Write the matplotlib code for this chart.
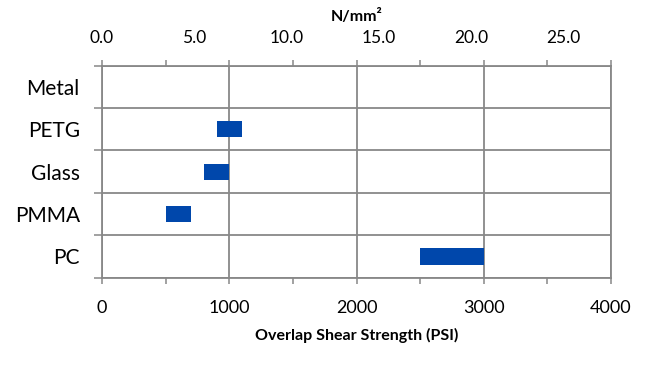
import numpy as np
import matplotlib.pyplot as plt
from matplotlib.ticker import MultipleLocator, FixedLocator

# data: strength range per material (PSI)
materials = ['Metal', 'PETG', 'Glass', 'PMMA', 'PC']
psi_low = [np.nan, 900, 800, 500, 2500]
psi_high = [np.nan, 1100, 1000, 700, 3000]
mpa_ticks = [0, 5, 10, 15, 20, 25]
PSI_PER_MPA = 145.038

plt.rcParams['font.family'] = ['Lato', 'DejaVu Sans']
grid_col = '#888888'
bar_col = '#0047AB'

fig = plt.figure(figsize=(6.59, 3.65), dpi=100)
ax = fig.add_axes([0.1548, 0.2392, 0.7724, 0.5808])

y = np.arange(len(materials))
widths = np.array(psi_high) - np.array(psi_low)
ax.barh(y, widths, left=psi_low, height=0.38, color=bar_col, zorder=3)

ax.set_xlim(0, 4000)
ax.set_ylim(len(materials) - 0.5, -0.5)

# x ticks
ax.xaxis.set_major_locator(MultipleLocator(1000))
ax.xaxis.set_minor_locator(MultipleLocator(500))
ax.tick_params(axis='x', which='both', top=True, direction='out', length=4,
               width=1.1, color=grid_col, labelsize=13, pad=12)
ax.grid(axis='x', which='major', color=grid_col, linewidth=1.3, zorder=1)

# y: boundaries as major ticks + grid, labels at centres
ax.yaxis.set_major_locator(FixedLocator(np.arange(len(materials) + 1) - 0.5))
ax.yaxis.set_major_formatter(plt.NullFormatter())
ax.yaxis.set_minor_locator(FixedLocator(y))
ax.set_yticks(y, materials, minor=True)
ax.tick_params(axis='y', which='major', direction='out', length=6, width=1.1, color=grid_col)
ax.tick_params(axis='y', which='minor', length=0, labelsize=15, pad=16)
ax.grid(axis='y', which='major', color=grid_col, linewidth=1.3, zorder=1)

for s in ax.spines.values():
    s.set_color(grid_col)
    s.set_linewidth(1.3)

ax.set_xlabel('Overlap Shear Strength (PSI)', fontsize=11.5, fontweight='bold', labelpad=9)

# secondary axis in N/mm2
sec = ax.secondary_xaxis('top', functions=(lambda x: x / PSI_PER_MPA, lambda x: x * PSI_PER_MPA))
sec.set_xticks(mpa_ticks)
sec.set_xticklabels(['%.1f' % v for v in mpa_ticks])
sec.tick_params(length=0, labelsize=12.5, pad=14)
sec.spines['top'].set_visible(False)
sec.set_xlabel('N/mm²', fontsize=11.5, fontweight='bold', labelpad=7)

plt.savefig('out.png', dpi=100)
